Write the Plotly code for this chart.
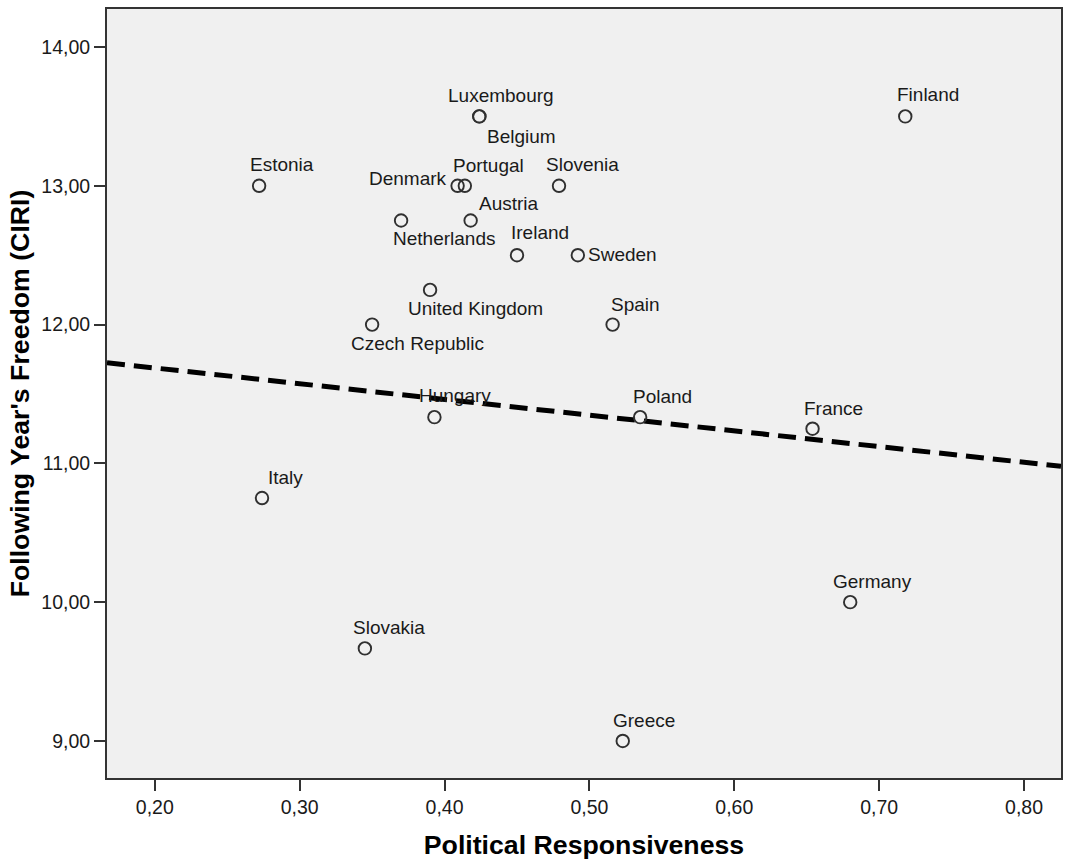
import plotly.graph_objects as go

# Country means: political responsiveness vs. following year's CIRI freedom score
countries = [
    "Estonia", "Italy", "Slovakia", "Czech Republic", "Netherlands",
    "United Kingdom", "Hungary", "Denmark", "Portugal", "Austria",
    "Luxembourg", "Belgium", "Ireland", "Slovenia", "Sweden", "Spain",
    "Greece", "Poland", "France", "Germany", "Finland",
]
responsiveness = [
    0.272, 0.274, 0.345, 0.350, 0.370,
    0.390, 0.393, 0.409, 0.414, 0.418,
    0.424, 0.424, 0.450, 0.479, 0.492, 0.516,
    0.523, 0.535, 0.654, 0.680, 0.718,
]
freedom = [
    13.00, 10.75, 9.667, 12.00, 12.75,
    12.25, 11.333, 13.00, 13.00, 12.75,
    13.50, 13.50, 12.50, 13.00, 12.50, 12.00,
    9.00, 11.333, 11.25, 10.00, 13.50,
]

# Linear fit line shown in the chart
fit_intercept = 11.914
fit_slope = -1.133

x_ticks = [0.2, 0.3, 0.4, 0.5, 0.6, 0.7, 0.8]
y_ticks = [9, 10, 11, 12, 13, 14]
x_range = [0.167, 0.8255]
y_range = [8.733, 14.274]

# Label placement (pixel offsets from the marker, anchor side)
label_place = {
    "Estonia": (-11, 21, "left"),
    "Italy": (4, 21, "left"),
    "Slovakia": (-14, 21, "left"),
    "Czech Republic": (-23, -19, "left"),
    "Netherlands": (-10, -18, "left"),
    "United Kingdom": (-24, -19, "left"),
    "Hungary": (-17, 22, "left"),
    "Denmark": (-9, 7, "right"),
    "Portugal": (-14, 20, "left"),
    "Austria": (6, 17, "left"),
    "Luxembourg": (-33, 21, "left"),
    "Belgium": (6, -20, "left"),
    "Ireland": (-8, 23, "left"),
    "Slovenia": (-15, 21, "left"),
    "Sweden": (8, 1, "left"),
    "Spain": (-4, 20, "left"),
    "Greece": (-12, 20, "left"),
    "Poland": (-9, 21, "left"),
    "France": (-11, 20, "left"),
    "Germany": (-19, 21, "left"),
    "Finland": (-10, 22, "left"),
}

FONT = "Liberation Sans, Arial, sans-serif"
INK = "#1a1a1a"

fig = go.Figure()

fig.add_trace(go.Scatter(
    x=x_range,
    y=[fit_intercept + fit_slope * v for v in x_range],
    mode="lines",
    line=dict(color="black", width=5, dash="18px,9px"),
    hoverinfo="skip",
    showlegend=False,
))

fig.add_trace(go.Scatter(
    x=responsiveness,
    y=freedom,
    mode="markers",
    marker=dict(symbol="circle-open", size=12.5, color="#303030",
                line=dict(width=1.9, color="#303030")),
    text=countries,
    showlegend=False,
))

for name, xv, yv in zip(countries, responsiveness, freedom):
    dx, dy, side = label_place[name]
    fig.add_annotation(
        x=xv, y=yv, text=name, showarrow=False,
        xanchor=side, yanchor="middle",
        xshift=dx, yshift=dy,
        font=dict(family=FONT, size=19, color=INK),
    )

axis_common = dict(
    showgrid=False, zeroline=False,
    showline=True, linecolor="#333333", linewidth=2, mirror=True,
    ticks="outside", ticklen=11, tickwidth=2, tickcolor="#333333",
    tickfont=dict(family=FONT, size=19.5, color=INK),
    tickformat=".2f",
)

fig.update_xaxes(
    range=x_range, tickvals=x_ticks,
    title=dict(text="<b>Political Responsiveness</b>",
               font=dict(family=FONT, size=26.7, color="black"), standoff=20),
    **axis_common,
)
fig.update_yaxes(
    range=y_range, tickvals=y_ticks,
    title=dict(text="<b>Following Year's Freedom (CIRI)</b>",
               font=dict(family=FONT, size=26.7, color="black"), standoff=4),
    **axis_common,
)

fig.update_layout(
    width=1065, height=860,
    margin=dict(l=107, r=2, t=9, b=82),
    plot_bgcolor="#f0f0f0",
    paper_bgcolor="white",
    separators=",.",
    showlegend=False,
)

fig.write_html("out.html")
